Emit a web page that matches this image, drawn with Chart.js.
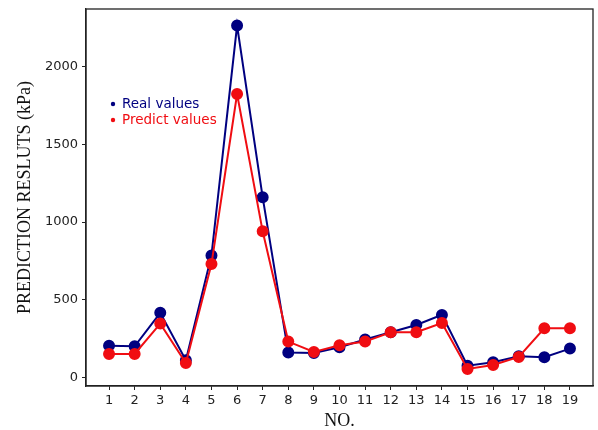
<!DOCTYPE html>
<html>
<head>
<meta charset="utf-8">
<script src="https://cdn.jsdelivr.net/npm/chart.js@4/dist/chart.umd.min.js"></script>
<style>
  html, body { margin: 0; padding: 0; background: #fff; }
  #wrap { width: 598px; height: 430px; }
</style>
</head>
<body>
<div id="wrap"><canvas id="resultChart" width="598" height="430"></canvas></div>
<script>
// Sample numbers and measured / predicted results (kPa)
const sampleNo = [1, 2, 3, 4, 5, 6, 7, 8, 9, 10, 11, 12, 13, 14, 15, 16, 17, 18, 19];
const realValues = [204, 200, 415, 110, 785, 2265, 1159, 159, 157, 194, 243, 290, 337, 402, 75, 97, 135, 129, 185];
const predictValues = [150, 150, 346, 92, 729, 1824, 940, 230, 163, 206, 230, 290, 290, 350, 54, 79, 131, 316, 316];
const yTicks = [0, 500, 1000, 1500, 2000];

const toPoints = (vals) => vals.map((v, i) => ({ x: sampleNo[i], y: v }));

// frame around the plot area
const frame = {
  id: "frame",
  afterDraw(chart) {
    const { ctx, chartArea: a } = chart;
    ctx.save();
    ctx.strokeStyle = "#222";
    ctx.lineWidth = 1.3;
    ctx.strokeRect(a.left, a.top, a.right - a.left, a.bottom - a.top);
    ctx.restore();
  },
};

// text legend with coloured labels, inside the axes
const innerLegend = {
  id: "innerLegend",
  afterDraw(chart) {
    const { ctx } = chart;
    ctx.save();
    ctx.font = "13.5px 'DejaVu Sans'";
    ctx.textBaseline = "middle";
    chart.data.datasets.forEach((ds, i) => {
      const y = 104 + i * 16;
      ctx.fillStyle = ds.borderColor;
      ctx.beginPath();
      ctx.arc(113, y, 2.2, 0, Math.PI * 2);
      ctx.fill();
      ctx.fillText(ds.label, 122, y);
    });
    ctx.restore();
  },
};

const tickFont = { family: "DejaVu Sans", size: 13 };
const titleFont = { family: "Liberation Serif", size: 18, lineHeight: 1 };

const ctx = document.getElementById("resultChart").getContext("2d");
const resultChart = new Chart(ctx, {
  type: "line",
  data: {
    datasets: [
      {
        label: "Real values",
        data: toPoints(realValues),
        borderColor: "#000080",
        backgroundColor: "#000080",
        borderWidth: 2,
        pointRadius: 5,
        pointHoverRadius: 5,
        tension: 0,
        order: 1,
      },
      {
        label: "Predict values",
        data: toPoints(predictValues),
        borderColor: "#f00d12",
        backgroundColor: "#f00d12",
        borderWidth: 2,
        pointRadius: 5,
        pointHoverRadius: 5,
        tension: 0,
        order: 0, // drawn on top
      },
    ],
  },
  options: {
    responsive: false,
    animation: false,
    layout: { autoPadding: false, padding: { top: 9, right: 5, left: 0, bottom: 0 } },
    plugins: {
      legend: { display: false },
      tooltip: { enabled: false },
    },
    scales: {
      x: {
        type: "linear",
        min: 0.1,
        max: 19.9,
        afterBuildTicks: (axis) => {
          axis.ticks = sampleNo.map((v) => ({ value: v }));
        },
        afterFit: (axis) => {
          axis.height = 44;
          axis.paddingLeft = 0;
          axis.paddingRight = 0;
        },
        grid: { drawOnChartArea: false, drawTicks: true, tickLength: 4, color: "#222" },
        border: { display: true, color: "#222", width: 1.3 },
        ticks: { color: "#222", font: tickFont, padding: 3, autoSkip: false, maxRotation: 0, callback: (v) => String(v) },
        title: {
          display: true,
          text: "NO.",
          color: "#111",
          font: titleFont,
          padding: { top: 0, bottom: 0 },
        },
      },
      y: {
        type: "linear",
        min: -56,
        max: 2372,
        afterBuildTicks: (axis) => {
          axis.ticks = yTicks.map((v) => ({ value: v }));
        },
        afterFit: (axis) => {
          axis.width = 86;
          axis.paddingTop = 0;
          axis.paddingBottom = 0;
        },
        grid: { drawOnChartArea: false, drawTicks: true, tickLength: 4, color: "#222" },
        border: { display: true, color: "#222", width: 1.3 },
        ticks: { color: "#222", font: tickFont, padding: 4, callback: (v) => String(v) },
        title: {
          display: true,
          text: "PREDICTION RESLUTS (kPa)",
          color: "#111",
          font: titleFont,
          padding: { top: 16, bottom: 0 },
        },
      },
    },
  },
  plugins: [frame, innerLegend],
});
</script>
</body>
</html>
